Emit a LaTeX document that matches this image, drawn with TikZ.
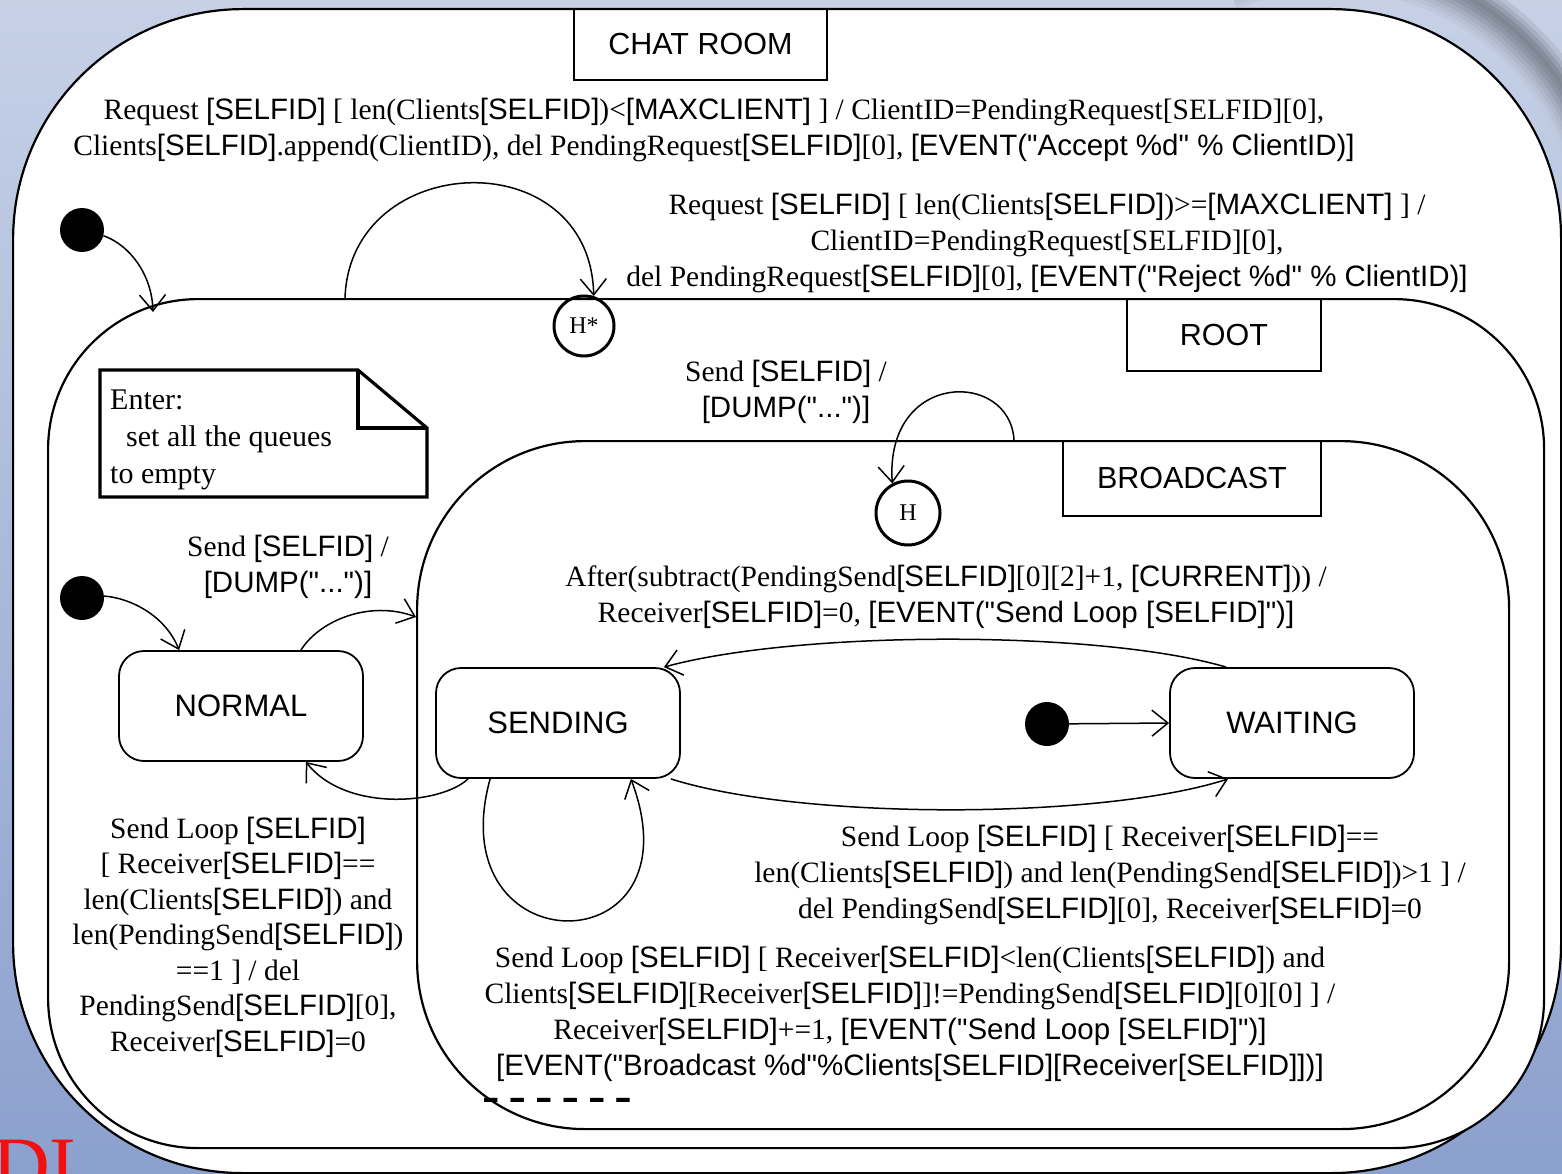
\documentclass[tikz,border=0pt]{standalone}
\usepackage{fontspec}
\usepackage{graphicx}
\setmainfont{Liberation Serif}[Ligatures=TeXOff]
\setsansfont{Liberation Sans}[Ligatures=TeXOff]
\usetikzlibrary{arrows.meta,calc}
\definecolor{bgtop}{HTML}{C6D1E6}
\definecolor{bgbot}{HTML}{8CA0CE}
\definecolor{swoosh}{HTML}{6E7380}
\definecolor{direda}{HTML}{F01010}
\newcommand{\sv}[1]{{\sffamily #1}}
\newcommand{\qq}{\symbol{34}}
\begin{document}
\begin{tikzpicture}[x=1pt,y=-1pt,
  every node/.style={inner sep=0pt},
  lab/.style={align=center, font=\fontsize{29.5}{36}\selectfont},
  cont/.style={draw, line width=2.2pt, fill=white, rectangle, anchor=north west},
  st/.style={draw, line width=1.8pt, rounded corners=25pt, minimum width=244pt, minimum height=110pt, font=\sffamily\fontsize{31}{34}\selectfont},
  tag/.style={draw, line width=1.8pt, anchor=north west, font=\sffamily\fontsize{30.5}{34}\selectfont},
  ini/.style={circle, fill=black, minimum size=44pt},
  hist/.style={circle, draw, line width=3pt, font=\fontsize{24}{26}\selectfont},
  arr/.style={-{Straight Barb[length=16pt,width=26pt]}, line width=1.5pt}]
\useasboundingbox (0,0) rectangle (1562,1174);
\fill[top color=bgtop, bottom color=bgbot] (0,0) rectangle (1562,1174);
% swoosh in the top right corner of the slide background
\foreach \r/\c in {250/8,254/16,258/26,262/38,266/50,270/62,274/72,278/80,282/72,286/55,290/35,294/18}{
  \draw[line width=4.5pt, color=swoosh!\c!bgtop] (1330,238) ++(-112:\r) arc[start angle=-112, end angle=-2, radius=\r];
}
\node[anchor=north west, text=direda, font=\fontsize{80}{80}\selectfont] (logo) at (-8,1140) {DI};
% containers
\node[cont, rounded corners=230pt, minimum width=1548pt, minimum height=1164pt] (chat) at (12,8) {};
\node[cont, rounded corners=150pt, minimum width=1496pt, minimum height=849pt] (root) at (47,298) {};
\node[cont, rounded corners=168pt, minimum width=1092pt, minimum height=688pt] (bcast) at (416,440) {};
\node[tag, minimum width=253pt, minimum height=71pt] (tchat) at (573,8) {CHAT ROOM};
\node[tag, minimum width=194pt, minimum height=72pt] (troot) at (1126,298) {ROOT};
\node[tag, minimum width=258pt, minimum height=75pt] (tbcast) at (1062,440) {BROADCAST};
% states
\node[st] (normal) at (241,706) {NORMAL};
\node[st] (sending) at (558,723) {SENDING};
\node[st] (waiting) at (1292,723) {WAITING};
\node[ini] (init1) at (82,230) {};
\node[ini] (init2) at (82,598) {};
\node[ini] (init3) at (1047,724) {};
\node[hist, minimum size=60pt] (hstar) at (584,326) {H*};
\node[hist, minimum size=64pt] (hist) at (908,513) {H};
% note
\draw[line width=3.2pt, fill=white] (100,370) -- (358,370) -- (427,428) -- (427,497) -- (100,497) -- cycle;
\draw[line width=3.2pt] (358,370) -- (358,428) -- (427,428);
\node[anchor=north west, align=left, font=\fontsize{30}{37}\selectfont] (note) at (110,390) {Enter:\\\hspace*{16pt}set all the queues\\to empty};
% coordinates on container borders
\coordinate (rootin) at (153,312);
\coordinate (rootloop) at (345,298);
\coordinate (bloop) at (1014,440);
\coordinate (bleft) at ($(bcast.north west)+(0,177)$);
% connectors
\draw[arr] (init1.-15) .. controls (130,245) and (152,275) .. (rootin);
\draw[arr] (rootloop) .. controls (350,150) and (590,140) .. (hstar.72);
\draw[arr] (bloop) .. controls (1010,370) and (885,370) .. (hist.118);
\draw[arr] (init2.5) .. controls (130,598) and (165,615) .. ($(normal.north west)+(61,0)$);
\draw[arr] ($(normal.north east)+(-63,0)$) .. controls (320,620) and (370,600) .. (bleft);
\draw[arr] ($(sending.south west)+(33,0)$) .. controls (440,805) and (345,812) .. ($(normal.south east)+(-58,0)$);
\draw[arr] ($(sending.south west)+(55,0)$) .. controls (438,968) and (702,968) .. ($(sending.south east)+(-50,0)$);
\draw[arr] ($(waiting.north west)+(57,0)$) .. controls (1100,630) and (800,630) .. ($(sending.north east)+(-17,0)$);
\draw[arr] ($(sending.south east)+(-10,0)$) .. controls (800,820) and (1100,820) .. ($(waiting.south west)+(59,0)$);
\draw[arr] (init3) -- (waiting.west);
% labels
\node[lab] (ltop) at (714,130) {Request \sv{[SELFID]} [ len(Clients\sv{[SELFID]})<\sv{[MAXCLIENT]} ] / ClientID=PendingRequest[SELFID][0],\\Clients\sv{[SELFID]}.append(ClientID), del PendingRequest\sv{[SELFID]}[0], \sv{[EVENT(\qq Accept \%d\qq\ \% ClientID)]}};
\node[lab] (lrej) at (1047,243) {Request \sv{[SELFID]} [ len(Clients\sv{[SELFID]})>=\sv{[MAXCLIENT]} ] /\\ClientID=PendingRequest[SELFID][0],\\del PendingRequest\sv{[SELFID]}[0], \sv{[EVENT(\qq Reject \%d\qq\ \% ClientID)]}};
\node[lab] (lsend1) at (786,392) {Send \sv{[SELFID]} /\\\sv{[DUMP(\qq...\qq)]}};
\node[lab] (lsend2) at (288,567) {Send \sv{[SELFID]} /\\\sv{[DUMP(\qq...\qq)]}};
\node[lab] (lafter) at (946,597) {After(subtract(PendingSend\sv{[SELFID]}[0][2]+1, \sv{[CURRENT]})) /\\Receiver\sv{[SELFID]}=0, \sv{[EVENT(\qq Send Loop [SELFID]\qq)]}};
\node[lab] (lsl1) at (1110,875) {Send Loop \sv{[SELFID]} [ Receiver\sv{[SELFID]}==\\len(Clients\sv{[SELFID]}) and len(PendingSend\sv{[SELFID]})>1 ] /\\del PendingSend\sv{[SELFID]}[0], Receiver\sv{[SELFID]}=0};
\node[lab, font=\fontsize{29.5}{35.5}\selectfont] (lsl2) at (238,937) {Send Loop \sv{[SELFID]}\\{}[ Receiver\sv{[SELFID]}==\\len(Clients\sv{[SELFID]}) and\\len(PendingSend\sv{[SELFID]})\\==1 ] / del\\PendingSend\sv{[SELFID]}[0],\\Receiver\sv{[SELFID]}=0};
\node[lab] (lsl3) at (910,1014) {Send Loop \sv{[SELFID]} [ Receiver\sv{[SELFID]}<len(Clients\sv{[SELFID]}) and\\Clients\sv{[SELFID]}[Receiver\sv{[SELFID]}]!=PendingSend\sv{[SELFID]}[0][0] ] /\\Receiver\sv{[SELFID]}+=1, \sv{[EVENT(\qq Send Loop [SELFID]\qq)]}\\\sv{[EVENT(\qq Broadcast \%d\qq\%Clients[SELFID][Receiver[SELFID]])]}};
\node[font=\sffamily\bfseries\fontsize{28}{28}\selectfont] (ldots) at (557,1100) {\scalebox{3.4}[1]{......}};
\end{tikzpicture}
\end{document}
